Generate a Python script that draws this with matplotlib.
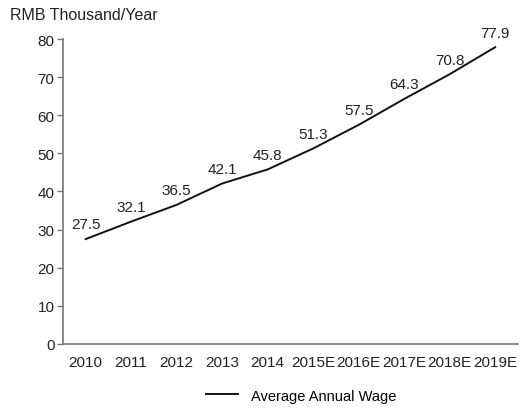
import matplotlib.pyplot as plt

years = ["2010", "2011", "2012", "2013", "2014",
         "2015E", "2016E", "2017E", "2018E", "2019E"]
wage = [27.5, 32.1, 36.5, 42.1, 45.8, 51.3, 57.5, 64.3, 70.8, 77.9]

plt.rcParams["font.family"] = ["Liberation Sans", "DejaVu Sans"]
plt.rcParams["font.size"] = 11

fig = plt.figure(figsize=(5.2, 4.1), dpi=100)
ax = fig.add_axes([0.121, 0.159, 0.875, 0.743])

x = list(range(len(years)))
ax.plot(x, wage, color="#111111", lw=1.4, label="Average Annual Wage")

for xi, v in zip(x, wage):
    ax.annotate(f"{v}", (xi, v), xytext=(0, 5.5), textcoords="offset points",
                ha="center", va="bottom", color="#222222")

ax.set_xlim(-0.5, len(years) - 0.5)
ax.set_ylim(0, 80)
ax.set_yticks(range(0, 81, 10))
ax.set_xticks(x)
ax.set_xticklabels(years)

for side in ("top", "right"):
    ax.spines[side].set_visible(False)
for side in ("left", "bottom"):
    ax.spines[side].set_color("#777777")
    ax.spines[side].set_linewidth(1.2)

ax.tick_params(axis="y", length=4, width=1, color="#777777", pad=2, labelcolor="#222222")
ax.tick_params(axis="x", length=0, pad=8, labelcolor="#222222")

fig.text(0.019, 0.963, "RMB Thousand/Year", ha="left", va="center",
         color="#222222", fontsize=11.5)

ax.legend(loc="center", bbox_to_anchor=(0.523, -0.17), frameon=False,
          fontsize=10.5, handlelength=2.2, handletextpad=0.9,
          borderpad=0, borderaxespad=0)

fig.savefig("out.png", dpi=100)
